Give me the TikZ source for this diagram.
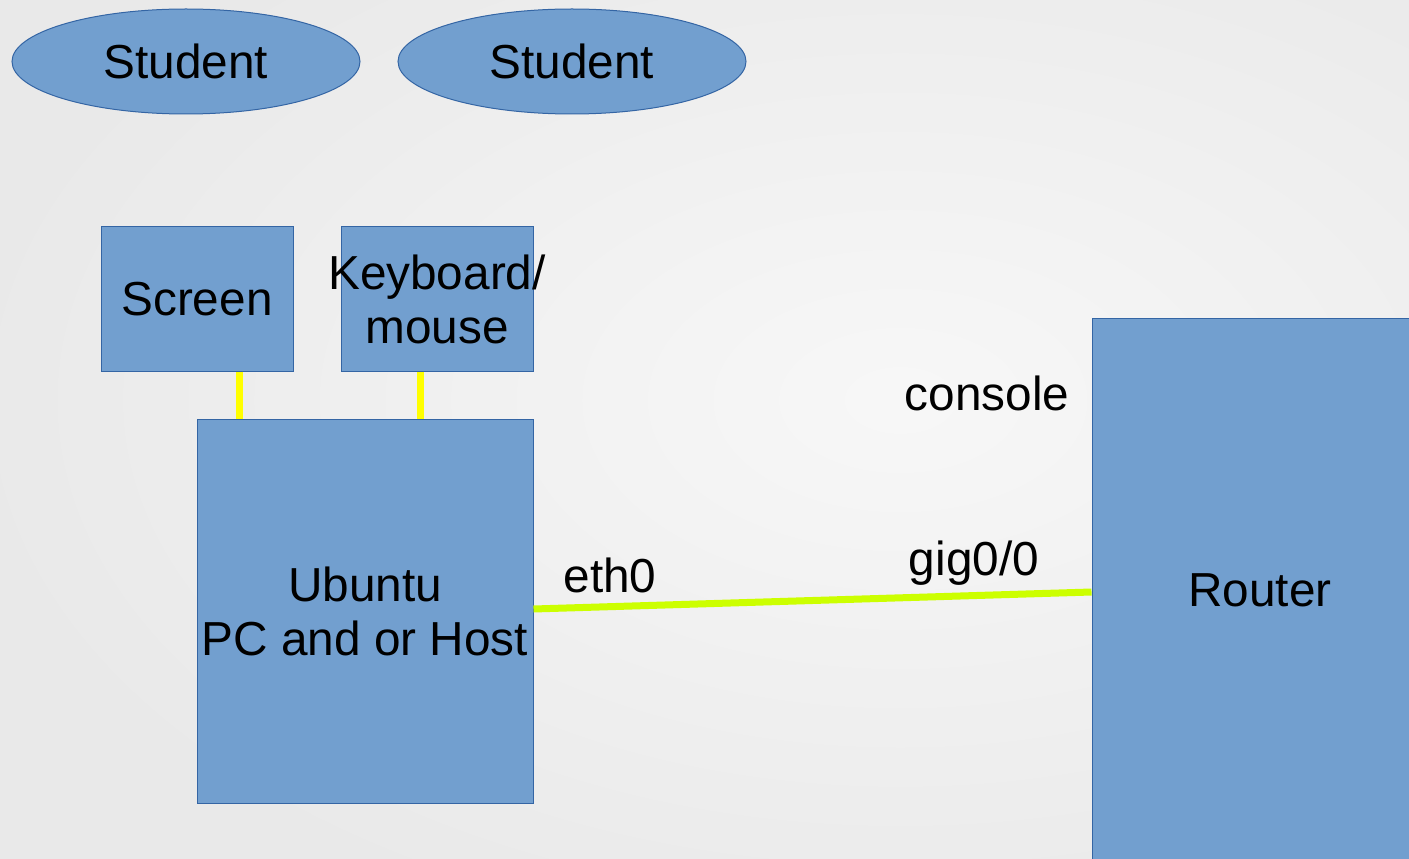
\documentclass[tikz,border=0pt]{standalone}
\usepackage{fontspec}
\setmainfont{Liberation Sans}
\usetikzlibrary{shapes.geometric}
\definecolor{boxblue}{HTML}{729FCF}
\definecolor{edgeblue}{HTML}{3465A4}
\definecolor{cablegreen}{HTML}{CCFF00}
\definecolor{cableyellow}{HTML}{FFFF00}

\begin{document}
\begin{tikzpicture} [x=0.75pt, y=-0.75pt,
	font=\fontsize{35.8}{40.5}\selectfont,
	box/.style={draw=edgeblue, line width=0.75pt, fill=boxblue, inner sep=0pt, align=center},
	student/.style={ellipse, draw=edgeblue, line width=0.75pt, fill=boxblue, minimum width=261pt, minimum height=78.75pt, inner sep=0pt},
	usb/.style={cableyellow, line width=5.25pt},
	ethline/.style={cablegreen, line width=5.25pt},
	port/.style={inner sep=0pt, anchor=base}]
	\useasboundingbox (0,0) rectangle (1409,859);
	\clip (0,0) rectangle (1409,859);
	\shade[inner color=white!97!black, outer color=white!91.5!black] (-20,-150) rectangle (1820,950);

	\node[student] (s1) at (186,61.5) {Student};
	\node[student] (s2) at (572,61.5) {Student};

	\node[box, minimum width=144pt, minimum height=108pt] (screen) at (197,299) {Screen};
	\node[box, minimum width=144pt, minimum height=108pt] (keyboard) at (437,299) {};
	\node[align=center, inner sep=0pt] (kbdtext) at (keyboard) {Keyboard/\\mouse};

	\node[box, minimum width=252pt, minimum height=288pt] (ubuntu) at (365,611) {Ubuntu\\PC and or Host};
	\node[box, minimum width=252pt, minimum height=408pt] (router) at (1260,590) {Router};

	\path (screen.south) ++(42,0) coordinate (scrplug);
	\path (keyboard.south) ++(-17,0) coordinate (kbdplug);
	\draw[usb] (scrplug) -- (scrplug |- ubuntu.north);
	\draw[usb] (kbdplug) -- (kbdplug |- ubuntu.north);
	\draw[ethline] ([yshift=1.5pt]ubuntu.east) -- ([yshift=-1.5pt]router.west);

	\node[port] (eth) at (610,592) {eth0};
	\node[port] (gig) at (974,575) {gig0/0};
	\node[port] (console) at (987,410) {console};
\end{tikzpicture}
\end{document}
